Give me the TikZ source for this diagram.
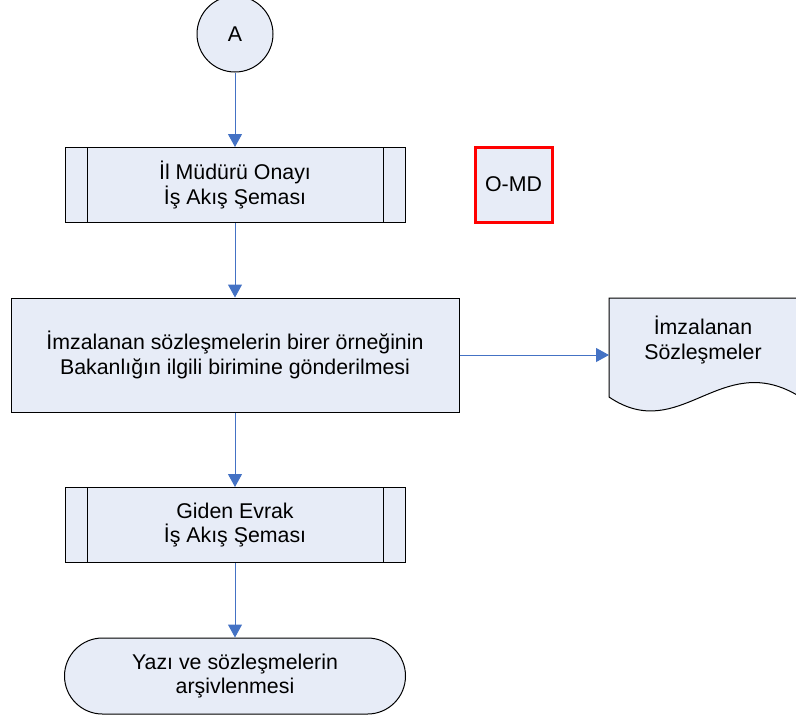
\documentclass[tikz,border=0pt]{standalone}
\usepackage{fontspec}
\setmainfont{Liberation Sans}
\usetikzlibrary{arrows.meta}
\definecolor{boxfill}{RGB}{231,236,247}
\definecolor{flowblue}{RGB}{68,114,196}
\tikzset{
  base/.style={draw,fill=boxfill,line width=0.75pt,align=center,inner sep=0pt,
    font=\fontsize{16}{18.4}\selectfont},
  subproc/.style={base,minimum width=255pt,minimum height=56.25pt,
    path picture={\draw[line width=0.75pt]
      ([xshift=16.5pt]path picture bounding box.north west) -- ([xshift=16.5pt]path picture bounding box.south west)
      ([xshift=-16.5pt]path picture bounding box.north east) -- ([xshift=-16.5pt]path picture bounding box.south east);}},
  flow/.style={->,>={Triangle[width=10.5pt,length=9.75pt]},flowblue,line width=0.75pt},
}
\begin{document}
\begin{tikzpicture}[x=0.75pt,y=-0.75pt]
\useasboundingbox (0,0) rectangle (796,719);
\node[base,circle,minimum size=57pt] (A) at (235,34) {A};
\node[subproc] (onay) at (235,185) {İl Müdürü Onayı\\İş Akış Şeması};
\node[base,draw=red,line width=2.25pt,minimum width=57.75pt,minimum height=56.25pt] (omd) at (513.5,184.5) {O-MD};
\node[base,minimum width=336pt,minimum height=85.5pt] (gonder) at (235,355) {İmzalanan sözleşmelerin birer örneğinin\\Bakanlığın ilgili birimine gönderilmesi};
%% document shape
\draw[base] (609,298) -- (797,298) -- (797,395) .. controls (720,350) and (680,445) .. (609,397) -- cycle;
\node[align=center,inner sep=0pt,font=\fontsize{16}{18.4}\selectfont] (belge) at (703,340) {İmzalanan\\Sözleşmeler};
\coordinate (belgein) at (609,355);
\node[subproc] (giden) at (235,525) {Giden Evrak\\İş Akış Şeması};
\node[base,minimum width=255.75pt,minimum height=57pt,rounded corners=28.5pt] (arsiv) at (235,676) {Yazı ve sözleşmelerin\\arşivlenmesi};
\draw[flow] (A) -- (onay);
\draw[flow] (onay) -- (gonder);
\draw[flow] (gonder) -- (giden);
\draw[flow] (giden) -- (arsiv);
\draw[flow] (gonder) -- (belgein);
\end{tikzpicture}
\end{document}
